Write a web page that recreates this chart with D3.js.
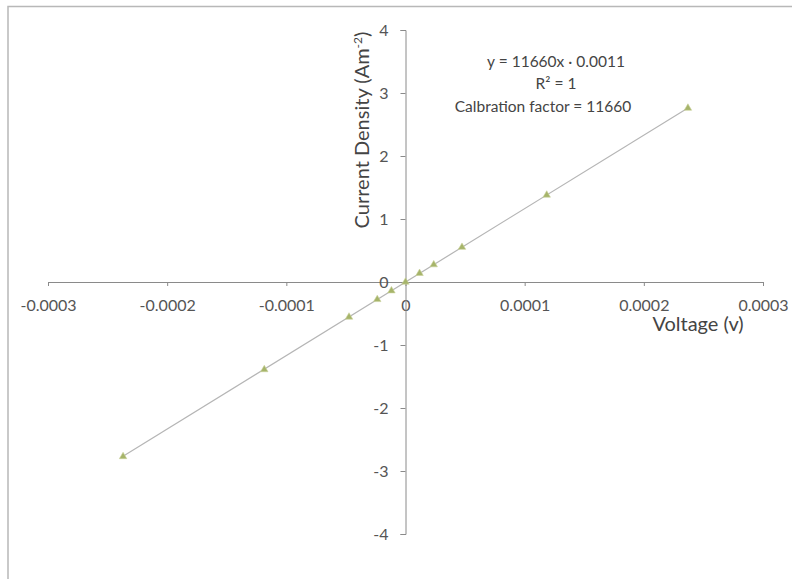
<!DOCTYPE html>
<html><head><meta charset="utf-8">
<script src="https://cdn.jsdelivr.net/npm/d3@7"></script>
<style>body{margin:0;background:#fff}svg{display:block}</style>
</head><body>
<svg id="c" width="792" height="579"></svg>
<script>
const voltage = [-0.000237, -0.0001185, -0.0000474, -0.0000237, -0.0000118, 0, 0.0000118, 0.0000237, 0.0000474, 0.0001185, 0.000237];
const current = [-2.77, -1.39, -0.556, -0.277, -0.139, 0, 0.137, 0.275, 0.552, 1.38, 2.76];
const xTicks = [-0.0003, -0.0002, -0.0001, 0, 0.0001, 0.0002, 0.0003];
const xTickLabels = ["-0.0003", "-0.0002", "-0.0001", "0", "0.0001", "0.0002", "0.0003"];
const yTicks = [-4, -3, -2, -1, 0, 1, 2, 3, 4];
const yTickLabels = ["-4", "-3", "-2", "-1", "0", "1", "2", "3", "4"];
const trend = {slope: 11660, intercept: -0.0011};
const annotation = ["y = 11660x · 0.0011", "R\u00B2 = 1", "Calbration factor = 11660"];

const svg = d3.select("#c");
const font = "Lato, 'Open Sans', sans-serif";
// chart border
svg.append("path").attr("d", "M8,579 V6.5 H792").attr("fill", "none").attr("stroke", "#b8b8b8").attr("stroke-width", 1.5);

const x = d3.scaleLinear().domain([-0.0003, 0.0003]).range([48, 763]);
const y = d3.scaleLinear().domain([-4, 4]).range([534, 30]);

// x axis
const xa = svg.append("g").attr("transform", `translate(0,${y(0)})`)
  .call(d3.axisBottom(x).tickValues(xTicks).tickSize(4).tickFormat((d, i) => xTickLabels[i]).tickPadding(14));
xa.select(".domain").attr("stroke", "#8a8a8a");
xa.selectAll(".tick line").attr("stroke", "#8a8a8a");
xa.selectAll(".tick text").attr("font-family", font).attr("font-size", 16).attr("fill", "#555");

// y axis
const ya = svg.append("g").attr("transform", `translate(${x(0)},0)`)
  .call(d3.axisLeft(y).tickValues(yTicks).tickSize(5).tickFormat((d, i) => yTickLabels[i]).tickPadding(12));
ya.select(".domain").attr("stroke", "#8a8a8a");
ya.selectAll(".tick line").attr("stroke", "#8a8a8a");
ya.selectAll(".tick text").attr("font-family", font).attr("font-size", 16).attr("fill", "#555");

// trendline
const xs = d3.extent(voltage);
svg.append("line")
  .attr("x1", x(xs[0])).attr("y1", y(trend.slope * xs[0] + trend.intercept))
  .attr("x2", x(xs[1])).attr("y2", y(trend.slope * xs[1] + trend.intercept))
  .attr("stroke", "#b5b5b5").attr("stroke-width", 1.2);

// markers
const tri = d3.symbol().type(d3.symbolTriangle).size(24);
svg.append("g").selectAll("path").data(voltage).join("path")
  .attr("d", tri)
  .attr("transform", (d, i) => `translate(${x(d)},${y(current[i])})`)
  .attr("fill", "#a6b46a").attr("stroke", "#c9d29a").attr("stroke-width", 0.6);

// axis titles
const yt = svg.append("text").attr("transform", `translate(369,130) rotate(-90)`)
  .attr("text-anchor", "middle").attr("font-family", font).attr("font-size", 20).attr("fill", "#444");
yt.append("tspan").text("Current Density (Am");
yt.append("tspan").attr("baseline-shift", "super").attr("font-size", 12).text("-2");
yt.append("tspan").text(")");

svg.append("text").attr("x", 698).attr("y", 331).attr("text-anchor", "middle")
  .attr("font-family", font).attr("font-size", 20).attr("fill", "#444").text("Voltage (v)");

// annotation
const ann = svg.append("g").attr("font-family", font).attr("font-size", 15.5).attr("fill", "#444").attr("text-anchor", "middle");
[[556, 67], [556, 89], [543, 112]].forEach((p, i) => {
  ann.append("text").attr("x", p[0]).attr("y", p[1]).text(annotation[i]);
});
</script>
</body></html>
